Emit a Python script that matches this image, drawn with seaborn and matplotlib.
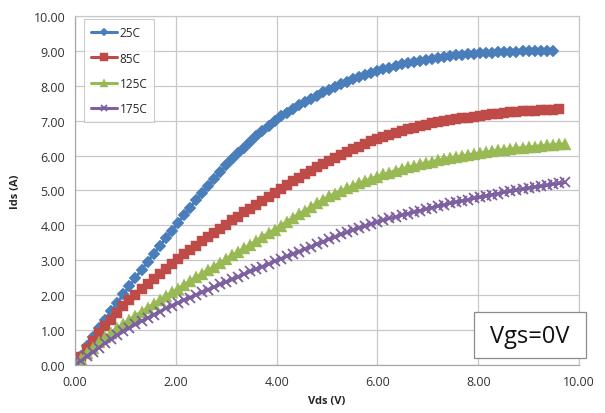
import matplotlib
matplotlib.use("Agg")
import matplotlib.pyplot as plt
import seaborn as sns
import pandas as pd
from matplotlib.patches import Rectangle

# ----------------------------------------------------------------------
# DATA
# ----------------------------------------------------------------------
vds = [0.00, 0.12, 0.24, 0.36, 0.48, 0.60, 0.72, 0.84, 0.96, 1.08,
       1.20, 1.32, 1.44, 1.56, 1.68, 1.80, 1.92, 2.04, 2.16, 2.28,
       2.40, 2.52, 2.64, 2.76, 2.88, 3.00, 3.12, 3.24, 3.36, 3.48,
       3.60, 3.72, 3.84, 3.96, 4.08, 4.20, 4.32, 4.44, 4.56, 4.68,
       4.80, 4.92, 5.04, 5.16, 5.28, 5.40, 5.52, 5.64, 5.76, 5.88,
       6.00, 6.12, 6.24, 6.36, 6.48, 6.60, 6.72, 6.84, 6.96, 7.08,
       7.20, 7.32, 7.44, 7.56, 7.68, 7.80, 7.92, 8.04, 8.16, 8.28,
       8.40, 8.52, 8.64, 8.76, 8.88, 9.00, 9.12, 9.24, 9.36, 9.48,
       9.60, 9.72]

ids_25c = [0.00, 0.26, 0.53, 0.79, 1.06, 1.30, 1.54, 1.78, 2.02, 2.26,
           2.49, 2.73, 2.96, 3.19, 3.41, 3.63, 3.85, 4.07, 4.29, 4.50,
           4.72, 4.93, 5.13, 5.33, 5.52, 5.72, 5.89, 6.06, 6.23, 6.40,
           6.55, 6.70, 6.85, 7.00, 7.12, 7.23, 7.34, 7.45, 7.54, 7.63,
           7.72, 7.81, 7.89, 7.97, 8.04, 8.12, 8.19, 8.25, 8.31, 8.37,
           8.43, 8.48, 8.52, 8.57, 8.61, 8.65, 8.68, 8.72, 8.75, 8.78,
           8.80, 8.82, 8.85, 8.87, 8.89, 8.90, 8.92, 8.93, 8.94, 8.95,
           8.96, 8.97, 8.98, 8.98, 8.99, 8.99, 8.99, 9.00, 9.00, 9.00]

ids_85c = [0.00, 0.23, 0.46, 0.68, 0.91, 1.11, 1.30, 1.49, 1.69, 1.85,
           2.01, 2.17, 2.32, 2.47, 2.62, 2.76, 2.90, 3.04, 3.17, 3.29,
           3.42, 3.54, 3.66, 3.78, 3.90, 4.02, 4.14, 4.25, 4.37, 4.48,
           4.59, 4.71, 4.82, 4.93, 5.04, 5.15, 5.26, 5.37, 5.47, 5.56,
           5.66, 5.76, 5.85, 5.94, 6.02, 6.11, 6.19, 6.26, 6.34, 6.41,
           6.48, 6.54, 6.60, 6.65, 6.71, 6.76, 6.80, 6.84, 6.89, 6.92,
           6.95, 6.98, 7.01, 7.04, 7.07, 7.09, 7.11, 7.14, 7.16, 7.18,
           7.20, 7.22, 7.24, 7.25, 7.27, 7.28, 7.29, 7.30, 7.31, 7.32,
           7.33]

ids_125c = [0.00, 0.16, 0.33, 0.49, 0.65, 0.79, 0.92, 1.05, 1.18, 1.30,
            1.41, 1.53, 1.64, 1.75, 1.86, 1.97, 2.08, 2.19, 2.29, 2.40,
            2.51, 2.62, 2.72, 2.82, 2.93, 3.03, 3.14, 3.24, 3.35, 3.45,
            3.56, 3.67, 3.78, 3.88, 3.99, 4.10, 4.21, 4.32, 4.42, 4.52,
            4.63, 4.73, 4.83, 4.91, 4.98, 5.06, 5.14, 5.21, 5.27, 5.34,
            5.40, 5.46, 5.51, 5.57, 5.62, 5.66, 5.70, 5.75, 5.79, 5.82,
            5.86, 5.90, 5.93, 5.96, 5.99, 6.02, 6.05, 6.08, 6.10, 6.13,
            6.15, 6.17, 6.19, 6.21, 6.23, 6.25, 6.26, 6.28, 6.29, 6.31,
            6.32, 6.33]

ids_175c = [0.00, 0.12, 0.25, 0.37, 0.50, 0.62, 0.73, 0.85, 0.96, 1.06,
            1.16, 1.26, 1.35, 1.44, 1.53, 1.62, 1.70, 1.78, 1.86, 1.93,
            2.01, 2.08, 2.16, 2.23, 2.31, 2.38, 2.45, 2.53, 2.60, 2.68,
            2.75, 2.82, 2.89, 2.97, 3.04, 3.11, 3.18, 3.25, 3.32, 3.39,
            3.46, 3.53, 3.60, 3.67, 3.74, 3.80, 3.87, 3.93, 3.98, 4.04,
            4.10, 4.15, 4.20, 4.24, 4.29, 4.34, 4.38, 4.42, 4.47, 4.51,
            4.55, 4.59, 4.63, 4.67, 4.70, 4.74, 4.78, 4.81, 4.84, 4.88,
            4.91, 4.95, 4.98, 5.01, 5.04, 5.07, 5.10, 5.12, 5.15, 5.18,
            5.20, 5.23]

series_labels = ["25C", "85C", "125C", "175C"]
series_values = [ids_25c, ids_85c, ids_125c, ids_175c]
colors = ["#4A7EBB", "#BE4B48", "#98B954", "#7D60A0"]
markers = ["D", "s", "^", "x"]
marker_sizes = [6, 7.5, 8.5, 7]

ticks = [0, 2, 4, 6, 8, 10]
yticks = [0, 1, 2, 3, 4, 5, 6, 7, 8, 9, 10]

# ----------------------------------------------------------------------
# PLOT
# ----------------------------------------------------------------------
sns.set_style("white")
plt.rcParams["font.family"] = ["Open Sans", "DejaVu Sans"]

fig = plt.figure(figsize=(6.05, 4.14), dpi=100)
ax = fig.add_axes([0.124, 0.116, 0.833, 0.843])

for label, vals, c, m, ms in zip(series_labels, series_values, colors,
                                 markers, marker_sizes):
    d = pd.DataFrame({"Vds": vds[:len(vals)], "Ids": vals})
    sns.lineplot(data=d, x="Vds", y="Ids", ax=ax, color=c, marker=m,
                 markersize=ms, linewidth=2.2, markeredgecolor=c,
                 markeredgewidth=1.3 if m == "x" else 0.3,
                 label=label, sort=False)

ax.set_xlim(0, 10)
ax.set_ylim(0, 10)
ax.set_xticks(ticks)
ax.set_yticks(yticks)
ax.set_xticklabels([f"{t:.2f}" for t in ticks], fontsize=9, color="#333333")
ax.set_yticklabels([f"{t:.2f}" for t in yticks], fontsize=9, color="#333333")
ax.grid(True, color="#c8c8c8", linewidth=0.9)
ax.tick_params(axis="both", length=4, color="#a0a0a0", width=0.8,
               direction="out", pad=3)
for s in ax.spines.values():
    s.set_color("#a8a8a8")
    s.set_linewidth(0.9)
ax.spines["top"].set_color("#c8c8c8")
ax.spines["right"].set_color("#c8c8c8")

ax.set_xlabel("Vds (V)", fontsize=8, fontweight="bold", labelpad=5)
ax.set_ylabel("Ids (A)", fontsize=8, fontweight="bold", labelpad=9)

leg = ax.legend(loc="upper left", bbox_to_anchor=(0.018, 0.991),
                borderaxespad=0, fontsize=8.5, frameon=True, fancybox=False,
                labelspacing=1.05, handlelength=2.2, handletextpad=0.2,
                borderpad=0.6, markerscale=0.7)
leg.get_frame().set_edgecolor("#c0c0c0")
leg.get_frame().set_linewidth(0.8)

# "Vgs=0V" box
box = Rectangle((474 / 605, 1 - 359 / 414), 112 / 605, 46 / 414,
                transform=fig.transFigure, facecolor="white",
                edgecolor="#8c8c8c", linewidth=0.9, zorder=5)
fig.patches.append(box)
fig.text(530 / 605, 1 - 337 / 414, "Vgs=0V", fontsize=17, ha="center",
         va="center", color="#111111", zorder=6)

fig.savefig("out.png", dpi=100)
